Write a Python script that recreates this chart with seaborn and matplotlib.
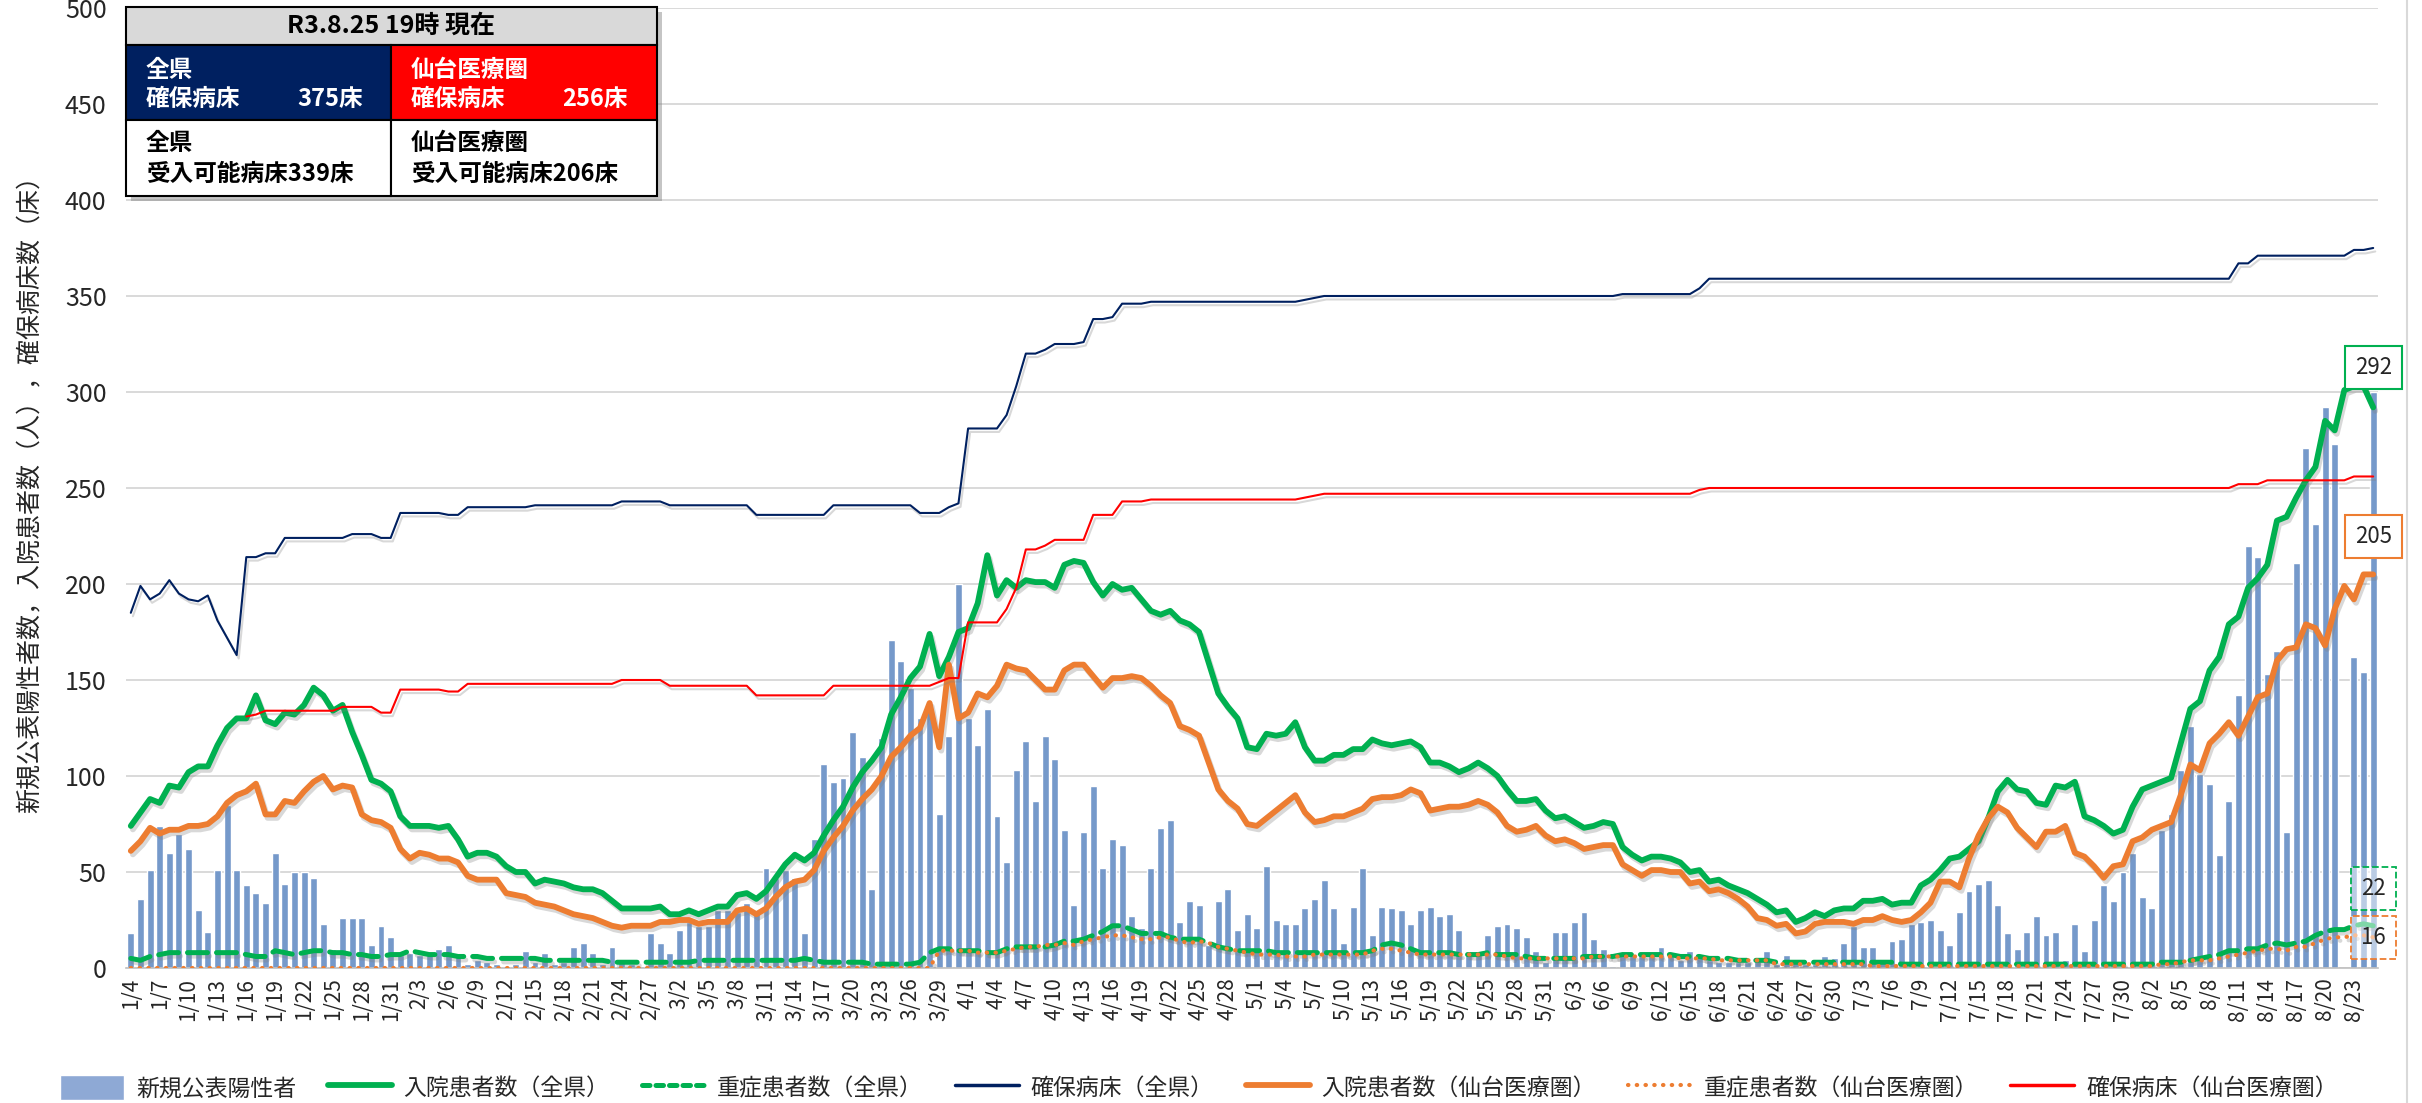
import numpy as np
import pandas as pd
import matplotlib
matplotlib.use('Agg')
import matplotlib.pyplot as plt
import matplotlib.patheffects as pe
from matplotlib.patches import Rectangle, Patch
from matplotlib.lines import Line2D
import seaborn as sns

# daily data 2021/1/4 - 2021/8/25
dates = pd.date_range('2021-01-04', '2021-08-25')

# 新規公表陽性者
cases = [18, 36, 51, 74, 60, 70, 62, 30, 19, 51,
         85, 51, 43, 39, 34, 60, 44, 50, 50, 47,
         23, 10, 26, 26, 26, 12, 22, 16, 7, 8,
         7, 7, 10, 12, 7, 2, 4, 3, 2, 1,
         2, 9, 3, 8, 2, 3, 11, 13, 8, 2,
         11, 4, 2, 1, 18, 13, 8, 20, 24, 22,
         22, 30, 30, 29, 34, 29, 52, 47, 51, 47,
         18, 67, 106, 97, 99, 123, 110, 41, 120, 171,
         160, 146, 130, 137, 80, 121, 200, 130, 116, 135,
         79, 55, 103, 118, 87, 121, 109, 72, 33, 71,
         95, 52, 67, 64, 27, 21, 52, 73, 77, 24,
         35, 33, 12, 35, 41, 20, 28, 21, 53, 25,
         23, 23, 31, 36, 46, 31, 13, 32, 52, 17,
         32, 31, 30, 23, 30, 32, 27, 28, 20, 7,
         7, 17, 22, 23, 21, 16, 9, 3, 19, 19,
         24, 29, 15, 10, 1, 7, 7, 8, 7, 11,
         7, 4, 9, 6, 4, 3, 3, 3, 3, 4,
         9, 2, 7, 3, 2, 2, 6, 5, 13, 22,
         11, 11, 3, 14, 15, 23, 24, 25, 20, 12,
         29, 40, 44, 46, 33, 18, 10, 19, 27, 17,
         19, 4, 23, 9, 25, 43, 35, 50, 60, 37,
         31, 72, 80, 103, 126, 101, 96, 59, 87, 142,
         220, 214, 153, 165, 71, 211, 271, 231, 292, 273,
         0, 162, 154, 300]

# 入院患者数（全県）
hosp_pref = [74, 81, 88, 86, 95, 94, 102, 105, 105, 116,
             125, 130, 130, 142, 129, 127, 133, 132, 137, 146,
             142, 134, 137, 123, 111, 98, 96, 92, 79, 74,
             74, 74, 73, 74, 67, 58, 60, 60, 58, 53,
             50, 50, 44, 46, 45, 44, 42, 41, 41, 39,
             35, 31, 31, 31, 31, 32, 28, 28, 30, 28,
             30, 32, 32, 38, 39, 36, 40, 47, 54, 59,
             56, 60, 69, 77, 84, 94, 102, 108, 115, 132,
             141, 151, 157, 174, 152, 162, 175, 177, 190, 215,
             194, 202, 198, 202, 201, 201, 198, 210, 212, 211,
             201, 194, 200, 197, 198, 192, 186, 184, 186, 181,
             179, 175, 159, 143, 136, 130, 115, 114, 122, 121,
             122, 128, 115, 108, 108, 111, 111, 114, 114, 119,
             117, 116, 117, 118, 115, 107, 107, 105, 102, 104,
             107, 104, 100, 93, 87, 87, 88, 82, 78, 79,
             76, 73, 74, 76, 75, 63, 59, 56, 58, 58,
             57, 55, 50, 51, 45, 46, 43, 41, 39, 36,
             33, 29, 30, 24, 26, 29, 27, 30, 31, 31,
             35, 35, 36, 33, 34, 34, 43, 46, 51, 57,
             58, 62, 66, 78, 92, 98, 93, 92, 86, 85,
             95, 94, 97, 79, 77, 74, 70, 72, 84, 93,
             95, 97, 99, 117, 135, 139, 155, 162, 179, 183,
             198, 203, 210, 233, 235, 245, 254, 261, 285, 280,
             301, 303, 303, 292]

# 重症患者数（全県）
severe_pref = [5, 4, 6, 7, 8, 8, 8, 8, 8, 8,
               8, 8, 7, 6, 6, 9, 8, 7, 8, 9,
               9, 8, 8, 7, 7, 6, 6, 7, 7, 9,
               8, 7, 7, 7, 6, 6, 6, 5, 5, 5,
               5, 5, 5, 4, 4, 4, 4, 4, 4, 4,
               3, 3, 3, 3, 3, 3, 3, 3, 3, 4,
               4, 4, 4, 4, 4, 4, 4, 4, 4, 4,
               5, 4, 3, 3, 3, 3, 3, 2, 2, 2,
               2, 2, 3, 8, 10, 10, 9, 9, 9, 8,
               8, 10, 11, 11, 11, 11, 12, 14, 14, 15,
               17, 19, 22, 22, 20, 18, 18, 18, 16, 15,
               15, 15, 13, 11, 10, 9, 9, 9, 9, 8,
               8, 8, 8, 8, 8, 8, 8, 8, 8, 9,
               12, 13, 12, 10, 8, 8, 8, 8, 7, 7,
               7, 8, 7, 7, 7, 6, 5, 5, 5, 5,
               5, 6, 6, 6, 6, 7, 7, 7, 7, 7,
               7, 6, 6, 6, 5, 5, 5, 4, 4, 4,
               4, 3, 3, 3, 3, 3, 3, 3, 3, 3,
               3, 3, 3, 3, 2, 2, 2, 2, 2, 2,
               2, 2, 2, 2, 2, 2, 2, 2, 2, 2,
               2, 2, 2, 2, 2, 2, 2, 2, 2, 2,
               2, 3, 3, 3, 4, 5, 6, 7, 9, 9,
               10, 10, 12, 13, 12, 13, 14, 17, 19, 20,
               20, 22, 23, 22]

# 確保病床（全県）
beds_pref = [185, 199, 192, 195, 202, 195, 192, 191, 194, 181,
             172, 163, 214, 214, 216, 216, 224, 224, 224, 224,
             224, 224, 224, 226, 226, 226, 224, 224, 237, 237,
             237, 237, 237, 236, 236, 240, 240, 240, 240, 240,
             240, 240, 241, 241, 241, 241, 241, 241, 241, 241,
             241, 243, 243, 243, 243, 243, 241, 241, 241, 241,
             241, 241, 241, 241, 241, 236, 236, 236, 236, 236,
             236, 236, 236, 241, 241, 241, 241, 241, 241, 241,
             241, 241, 237, 237, 237, 240, 242, 281, 281, 281,
             281, 288, 303, 320, 320, 322, 325, 325, 325, 326,
             338, 338, 339, 346, 346, 346, 347, 347, 347, 347,
             347, 347, 347, 347, 347, 347, 347, 347, 347, 347,
             347, 347, 348, 349, 350, 350, 350, 350, 350, 350,
             350, 350, 350, 350, 350, 350, 350, 350, 350, 350,
             350, 350, 350, 350, 350, 350, 350, 350, 350, 350,
             350, 350, 350, 350, 350, 351, 351, 351, 351, 351,
             351, 351, 351, 354, 359, 359, 359, 359, 359, 359,
             359, 359, 359, 359, 359, 359, 359, 359, 359, 359,
             359, 359, 359, 359, 359, 359, 359, 359, 359, 359,
             359, 359, 359, 359, 359, 359, 359, 359, 359, 359,
             359, 359, 359, 359, 359, 359, 359, 359, 359, 359,
             359, 359, 359, 359, 359, 359, 359, 359, 359, 367,
             367, 371, 371, 371, 371, 371, 371, 371, 371, 371,
             371, 374, 374, 375]

# 入院患者数（仙台医療圏）
hosp_sendai = [61, 66, 73, 70, 72, 72, 74, 74, 75, 79,
               86, 90, 92, 96, 80, 80, 87, 86, 92, 97,
               100, 93, 95, 94, 80, 77, 76, 73, 62, 57,
               60, 59, 57, 57, 55, 48, 46, 46, 46, 39,
               38, 37, 34, 33, 32, 30, 28, 27, 26, 24,
               22, 21, 22, 22, 22, 24, 24, 25, 25, 23,
               24, 24, 24, 30, 31, 28, 31, 37, 42, 45,
               46, 51, 61, 68, 74, 82, 88, 93, 100, 110,
               115, 121, 125, 138, 115, 158, 130, 133, 143, 141,
               147, 158, 156, 155, 150, 145, 145, 155, 158, 158,
               152, 146, 151, 151, 152, 151, 147, 142, 138, 126,
               124, 121, 107, 93, 87, 83, 75, 74, 78, 82,
               86, 90, 81, 76, 77, 79, 79, 81, 83, 88,
               89, 89, 90, 93, 91, 82, 83, 84, 84, 85,
               87, 85, 81, 74, 71, 72, 74, 69, 66, 67,
               65, 62, 63, 64, 64, 54, 51, 48, 51, 51,
               50, 50, 44, 45, 40, 41, 39, 36, 32, 26,
               25, 22, 23, 18, 19, 23, 24, 24, 24, 23,
               25, 25, 27, 25, 24, 25, 29, 34, 45, 45,
               42, 57, 69, 78, 84, 81, 73, 68, 63, 71,
               71, 74, 60, 58, 53, 47, 53, 54, 66, 68,
               72, 74, 76, 90, 106, 103, 117, 122, 128, 121,
               131, 141, 143, 160, 166, 167, 179, 177, 168, 187,
               199, 192, 205, 205]

# 重症患者数（仙台医療圏）
severe_sendai = [0, 0, 0, 0, 0, 0, 0, 0, 0, 0,
                 0, 0, 0, 0, 0, 0, 0, 0, 0, 0,
                 0, 0, 0, 0, 0, 0, 0, 0, 0, 0,
                 0, 0, 0, 0, 0, 0, 0, 0, 0, 0,
                 0, 0, 0, 0, 0, 0, 0, 0, 0, 0,
                 0, 0, 0, 0, 0, 0, 0, 0, 0, 0,
                 0, 0, 0, 0, 0, 0, 0, 0, 0, 0,
                 0, 0, 0, 0, 0, 0, 0, 0, 0, 0,
                 0, 0, 0, 0, 9, 9, 9, 9, 8, 8,
                 8, 9, 10, 11, 11, 12, 12, 13, 12, 14,
                 15, 16, 17, 17, 16, 15, 15, 16, 16, 14,
                 13, 14, 13, 11, 10, 9, 8, 7, 7, 7,
                 6, 6, 6, 7, 7, 7, 7, 7, 7, 9,
                 10, 10, 9, 8, 7, 7, 7, 7, 7, 7,
                 7, 7, 7, 6, 5, 5, 5, 5, 5, 5,
                 5, 5, 6, 6, 6, 6, 6, 6, 6, 6,
                 6, 5, 5, 5, 5, 4, 4, 4, 4, 4,
                 4, 2, 2, 2, 2, 2, 2, 2, 2, 2,
                 2, 1, 1, 1, 1, 1, 1, 1, 1, 1,
                 1, 1, 1, 1, 1, 1, 1, 1, 1, 1,
                 1, 1, 1, 1, 1, 1, 1, 1, 1, 1,
                 1, 2, 2, 3, 4, 4, 4, 5, 6, 7,
                 8, 9, 10, 10, 9, 11, 11, 13, 15, 16,
                 16, 17, 17, 16]

# 確保病床（仙台医療圏）, starts 1/16
beds_sendai = [np.nan] * 12 + [
               131, 132, 134, 134, 134, 134, 134, 134,
               134, 134, 136, 136, 136, 136, 133, 133, 145, 145,
               145, 145, 145, 144, 144, 148, 148, 148, 148, 148,
               148, 148, 148, 148, 148, 148, 148, 148, 148, 148,
               148, 150, 150, 150, 150, 150, 147, 147, 147, 147,
               147, 147, 147, 147, 147, 142, 142, 142, 142, 142,
               142, 142, 142, 147, 147, 147, 147, 147, 147, 147,
               147, 147, 147, 147, 149, 151, 151, 180, 180, 180,
               180, 187, 198, 218, 218, 220, 223, 223, 223, 223,
               236, 236, 236, 243, 243, 243, 244, 244, 244, 244,
               244, 244, 244, 244, 244, 244, 244, 244, 244, 244,
               244, 244, 245, 246, 247, 247, 247, 247, 247, 247,
               247, 247, 247, 247, 247, 247, 247, 247, 247, 247,
               247, 247, 247, 247, 247, 247, 247, 247, 247, 247,
               247, 247, 247, 247, 247, 247, 247, 247, 247, 247,
               247, 247, 247, 249, 250, 250, 250, 250, 250, 250,
               250, 250, 250, 250, 250, 250, 250, 250, 250, 250,
               250, 250, 250, 250, 250, 250, 250, 250, 250, 250,
               250, 250, 250, 250, 250, 250, 250, 250, 250, 250,
               250, 250, 250, 250, 250, 250, 250, 250, 250, 250,
               250, 250, 250, 250, 250, 250, 250, 250, 250, 252,
               252, 252, 254, 254, 254, 254, 254, 254, 254, 254,
               254, 256, 256, 256]

# box texts
box_date = 'R3.8.25 19時 現在'
beds_total_pref, beds_total_sendai = 375, 256
beds_avail_pref, beds_avail_sendai = 339, 206

BAR = '#7599CA'
GREEN = '#00B050'
NAVY = '#002060'
ORANGE = '#ED7D31'
RED = '#FF0000'

df = pd.DataFrame({'day': np.arange(len(dates)), 'cases': cases,
                   'hosp_pref': hosp_pref, 'severe_pref': severe_pref,
                   'beds_pref': beds_pref, 'hosp_sendai': hosp_sendai,
                   'severe_sendai': severe_sendai, 'beds_sendai': beds_sendai})
n = len(df)

sns.set_style('white')
plt.rcParams['font.family'] = ['Noto Sans CJK JP', 'DejaVu Sans']

W, H = 2422, 1103
fig = plt.figure(figsize=(W / 100, H / 100), dpi=100)
ax = fig.add_axes([126 / W, 1 - 968 / H, (2378 - 126) / W, (968 - 8) / H])

sns.barplot(data=df, x='day', y='cases', color=BAR, saturation=1, width=0.72,
            errorbar=None, ax=ax, zorder=2)

shadow = [pe.SimpleLineShadow(offset=(1.5, -2.5), shadow_color='#808080', alpha=0.3), pe.Normal()]

def draw(col, color, lw, dashes=None):
    sns.lineplot(data=df, x='day', y=col, color=color, linewidth=lw, ax=ax, legend=False)
    ln = ax.lines[-1]
    ln.set_zorder(3)
    if dashes is not None:
        ln.set_dashes(dashes)
        ln.set_dash_capstyle('round')
    ln.set_path_effects(shadow)
    return ln

draw('hosp_pref', GREEN, 4.2)
draw('severe_pref', GREEN, 3.6, dashes=(4, 1.8))
draw('beds_pref', NAVY, 1.5)
draw('hosp_sendai', ORANGE, 4.2)
draw('severe_sendai', ORANGE, 3.0, dashes=(0.1, 2.0))
draw('beds_sendai', RED, 1.5)

ax.set_xlim(-0.5, n - 0.5)
ax.set_ylim(0, 500)
ax.set_yticks(np.arange(0, 501, 50))
ax.tick_params(axis='y', labelsize=18, length=0, pad=14)
ticks = np.arange(0, n, 3)
ax.set_xticks(ticks)
ax.set_xticklabels([f'{dates[i].month}/{dates[i].day}' for i in ticks], rotation=90, fontsize=15)
ax.set_xticks(np.arange(-0.5, n, 3), minor=True)
ax.tick_params(axis='x', which='major', length=0, pad=7)
ax.tick_params(axis='x', which='minor', length=7, color='#BFBFBF', width=1.2)
ax.set_xlabel('')
ax.set_ylabel('新規公表陽性者数，入院患者数（人），確保病床数（床）', fontsize=18)
ax.yaxis.set_label_coords(-0.037, 0.5)
ax.yaxis.grid(True, color='#D9D9D9', lw=1.4)
ax.set_axisbelow(True)
for s in ['left', 'top', 'right']:
    ax.spines[s].set_visible(False)
ax.spines['bottom'].set_color('#BFBFBF')
ax.spines['bottom'].set_linewidth(1.2)

# end-point labels
last = n - 1
ax.annotate(str(hosp_pref[-1]), xy=(last, hosp_pref[-1]), xytext=(0, 29), textcoords='offset points',
            ha='center', va='center', fontsize=16, zorder=6,
            bbox=dict(boxstyle='square,pad=0.45', fc='white', ec=GREEN, lw=1.5))
ax.annotate(str(hosp_sendai[-1]), xy=(last, hosp_sendai[-1]), xytext=(0, 27), textcoords='offset points',
            ha='center', va='center', fontsize=16, zorder=6,
            bbox=dict(boxstyle='square,pad=0.45', fc='white', ec=ORANGE, lw=1.5))
ax.annotate(str(severe_pref[-1]), xy=(last, severe_pref[-1]), xytext=(0, 27), textcoords='offset points',
            ha='center', va='center', fontsize=16, zorder=6,
            bbox=dict(boxstyle='square,pad=0.45', fc=(1, 1, 1, 0.5), ec=GREEN, lw=1.3, ls='--'))
ax.annotate(str(severe_sendai[-1]), xy=(last, severe_sendai[-1]), xytext=(0, 0), textcoords='offset points',
            ha='center', va='center', fontsize=16, zorder=6,
            bbox=dict(boxstyle='square,pad=0.45', fc=(1, 1, 1, 0.5), ec=ORANGE, lw=1.3, ls='--'))

# status box (top left)
bx = fig.add_axes([126 / W, 1 - 196 / H, 531 / W, 189 / H])
bx.set_xlim(0, 531)
bx.set_ylim(189, 0)
bx.axis('off')
bx.add_patch(Rectangle((5, 5), 531, 189, fc='#7F7F7F', alpha=0.45, ec='none', clip_on=False))
bx.add_patch(Rectangle((0, 0), 531, 38, fc='#D9D9D9', ec='black', lw=1.5, clip_on=False))
bx.add_patch(Rectangle((0, 38), 265, 75, fc=NAVY, ec='black', lw=1.5, clip_on=False))
bx.add_patch(Rectangle((265, 38), 266, 75, fc=RED, ec='black', lw=1.5, clip_on=False))
bx.add_patch(Rectangle((0, 113), 265, 76, fc='white', ec='black', lw=1.5, clip_on=False))
bx.add_patch(Rectangle((265, 113), 266, 76, fc='white', ec='black', lw=1.5, clip_on=False))
tk = dict(fontsize=17, fontweight='bold', va='center')
bx.text(265, 19, box_date, ha='center', color='black', fontsize=18, fontweight='bold', va='center')
bx.text(20, 63, '全県', ha='left', color='white', **tk)
bx.text(20, 92, '確保病床', ha='left', color='white', **tk)
bx.text(237, 92, f'{beds_total_pref}床', ha='right', color='white', **tk)
bx.text(285, 63, '仙台医療圏', ha='left', color='white', **tk)
bx.text(285, 92, '確保病床', ha='left', color='white', **tk)
bx.text(502, 92, f'{beds_total_sendai}床', ha='right', color='white', **tk)
bx.text(20, 136, '全県', ha='left', color='black', **tk)
bx.text(20, 167, f'受入可能病床{beds_avail_pref}床', ha='left', color='black', **tk)
bx.text(285, 136, '仙台医療圏', ha='left', color='black', **tk)
bx.text(285, 167, f'受入可能病床{beds_avail_sendai}床', ha='left', color='black', **tk)

# legend
handles = [Patch(facecolor='#8EA9D5'),
           Line2D([], [], color=GREEN, lw=4.2),
           Line2D([], [], color=GREEN, lw=3.6, dashes=(1.5, 1.2), dash_capstyle='round'),
           Line2D([], [], color=NAVY, lw=2.5),
           Line2D([], [], color=ORANGE, lw=4.2),
           Line2D([], [], color=ORANGE, lw=3.0, dashes=(0.1, 2.0), dash_capstyle='round'),
           Line2D([], [], color=RED, lw=2.5)]
labels = ['新規公表陽性者', '入院患者数（全県）', '重症患者数（全県）', '確保病床（全県）',
          '入院患者数（仙台医療圏）', '重症患者数（仙台医療圏）', '確保病床（仙台医療圏）']
fig.legend(handles, labels, loc='center', bbox_to_anchor=(0.495, 0.014), ncol=7, frameon=False,
           fontsize=16.5, handlelength=2.8, handleheight=1.3, handletextpad=0.5, columnspacing=1.4)

fig.add_artist(Line2D([2407 / W, 2407 / W], [0, 1], color='#D9D9D9', lw=1.5, transform=fig.transFigure))

fig.savefig('out.png', dpi=100)
